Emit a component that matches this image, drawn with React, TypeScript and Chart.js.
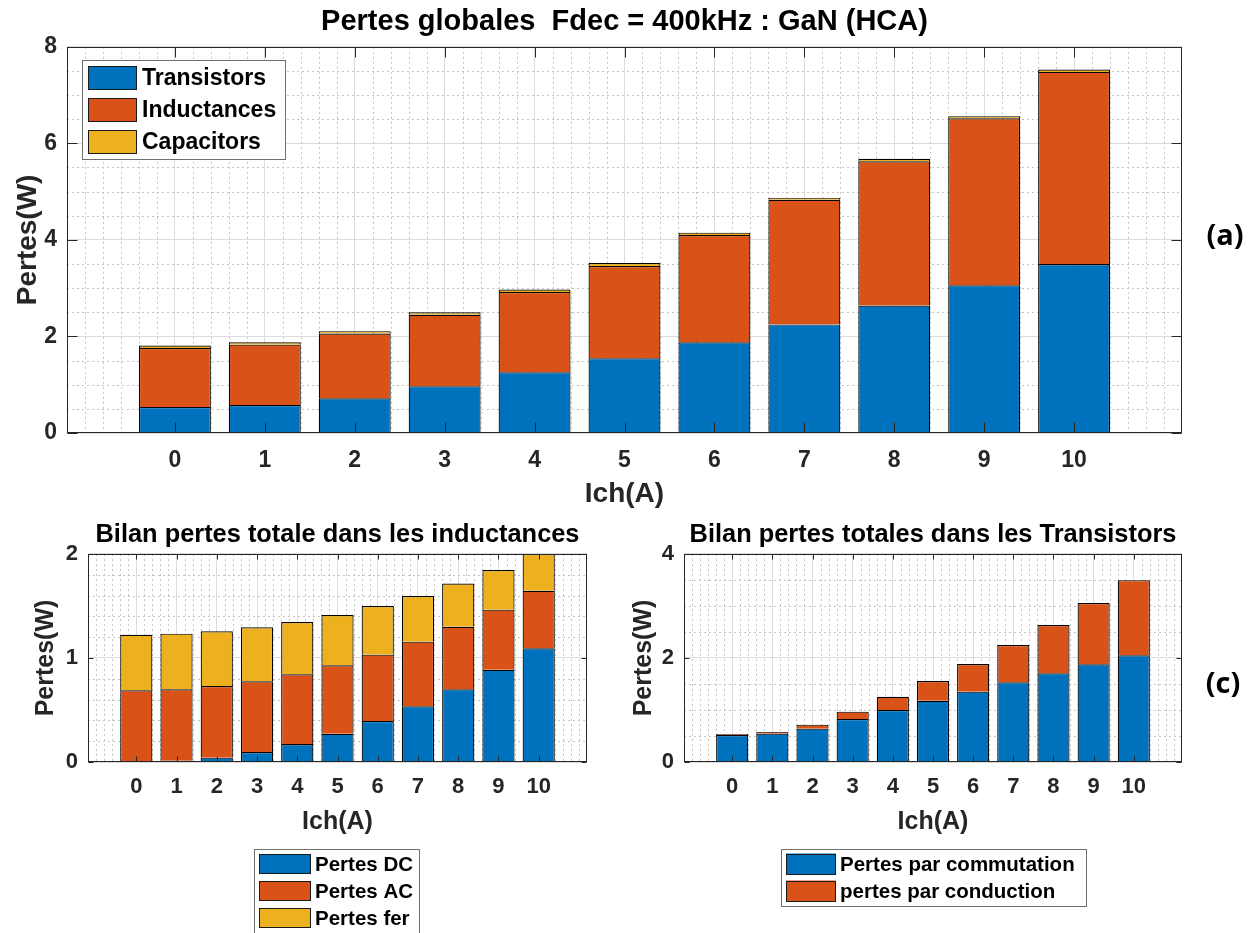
import React, { useEffect, useRef } from "react";
import { Chart, registerables } from "chart.js";

Chart.register(...registerables);

// ---------------- Data ----------------
const ichValues = [0, 1, 2, 3, 4, 5, 6, 7, 8, 9, 10];

// (a) Pertes globales
const transistorsLoss = [0.54, 0.58, 0.72, 0.97, 1.26, 1.55, 1.88, 2.25, 2.64, 3.06, 3.5];
const inductancesLoss = [1.22, 1.25, 1.34, 1.48, 1.66, 1.91, 2.22, 2.58, 2.99, 3.46, 3.98];
const capacitorsLoss = [0.05, 0.05, 0.05, 0.05, 0.05, 0.06, 0.05, 0.04, 0.05, 0.04, 0.05];

// Bilan inductances
const pertesDC = [0.0, 0.013, 0.042, 0.096, 0.173, 0.272, 0.394, 0.535, 0.699, 0.886, 1.093];
const pertesAC = [0.689, 0.686, 0.689, 0.68, 0.67, 0.657, 0.638, 0.622, 0.602, 0.579, 0.554];
const pertesFer = [0.535, 0.535, 0.525, 0.519, 0.503, 0.484, 0.468, 0.439, 0.414, 0.381, 0.353];

// (c) Bilan transistors
const pertesCommutation = [0.519, 0.545, 0.641, 0.827, 1.0, 1.179, 1.353, 1.532, 1.705, 1.878, 2.051];
const pertesConduction = [0.019, 0.032, 0.077, 0.141, 0.256, 0.379, 0.532, 0.718, 0.93, 1.177, 1.446];

// Tick values
const yTicksGlobal = [0, 2, 4, 6, 8];
const yTicksInductances = [0, 1, 2];
const yTicksTransistors = [0, 2, 4];

// ---------------- Styles ----------------
const BLUE = "#0072BD";
const ORANGE = "#D95319";
const YELLOW = "#EDB120";
const AXIS = "#262626";
const FONT = '"Liberation Sans", Arial, Helvetica, sans-serif';
const SIDE_FONT = '"Open Sans", "Noto Sans", sans-serif';

type Series = { label: string; values: number[]; color: string };

// MATLAB-like decorations: minor dotted grid, box, inward ticks, legend, side label
const matlabPlugin = {
  id: "matlab",
  beforeDatasetsDraw(chart: any, _args: any, o: any) {
    const { ctx, chartArea: a } = chart;
    const xs = chart.scales.x;
    const ys = chart.scales.y;
    const near = (v: number, arr: number[]) => arr.some((m) => Math.abs(m - v) < 1e-6);
    const majX = xs.ticks.map((t: any) => t.value);
    const majY = ys.ticks.map((t: any) => t.value);
    ctx.save();
    ctx.beginPath();
    ctx.rect(a.left, a.top, a.right - a.left, a.bottom - a.top);
    ctx.clip();
    ctx.strokeStyle = o.minorColor;
    ctx.lineWidth = 1;
    ctx.setLineDash([2, 3]);
    for (let k = Math.ceil(xs.min / o.minorX - 1e-6); k * o.minorX <= xs.max + 1e-6; k++) {
      const v = k * o.minorX;
      if (near(v, majX) || Math.abs(v - xs.min) < 1e-6 || Math.abs(v - xs.max) < 1e-6) continue;
      const px = Math.round(xs.getPixelForValue(v)) + 0.5;
      ctx.beginPath();
      ctx.moveTo(px, a.top);
      ctx.lineTo(px, a.bottom);
      ctx.stroke();
    }
    for (let k = Math.ceil(ys.min / o.minorY - 1e-6); k * o.minorY <= ys.max + 1e-6; k++) {
      const v = k * o.minorY;
      if (near(v, majY) || Math.abs(v - ys.min) < 1e-6 || Math.abs(v - ys.max) < 1e-6) continue;
      const py = Math.round(ys.getPixelForValue(v)) + 0.5;
      ctx.beginPath();
      ctx.moveTo(a.left, py);
      ctx.lineTo(a.right, py);
      ctx.stroke();
    }
    ctx.restore();
  },
  afterDatasetsDraw(chart: any, _args: any, o: any) {
    const { ctx, chartArea: a } = chart;
    const xs = chart.scales.x;
    const ys = chart.scales.y;
    const L = Math.round(a.left) + 0.5;
    const R = Math.round(a.right) - 0.5;
    const T = Math.round(a.top) + 0.5;
    const B = Math.round(a.bottom) - 0.5;
    ctx.save();
    ctx.strokeStyle = AXIS;
    ctx.lineWidth = 1;
    ctx.setLineDash([]);
    ctx.strokeRect(L, T, R - L, B - T);
    const len = o.tickLen;
    ctx.beginPath();
    xs.ticks.forEach((t: any) => {
      const px = Math.round(xs.getPixelForValue(t.value)) + 0.5;
      ctx.moveTo(px, B);
      ctx.lineTo(px, B - len);
      ctx.moveTo(px, T);
      ctx.lineTo(px, T + len);
    });
    ys.ticks.forEach((t: any) => {
      const py = Math.round(ys.getPixelForValue(t.value)) + 0.5;
      ctx.moveTo(L, py);
      ctx.lineTo(L + len, py);
      ctx.moveTo(R, py);
      ctx.lineTo(R - len, py);
    });
    ctx.stroke();
    ctx.restore();
  },
  afterDraw(chart: any, _args: any, o: any) {
    const { ctx } = chart;
    const lg = o.legend;
    if (lg) {
      ctx.save();
      ctx.fillStyle = "#ffffff";
      ctx.fillRect(lg.x, lg.y, lg.w, lg.h);
      ctx.strokeStyle = "#707070";
      ctx.lineWidth = 1;
      ctx.strokeRect(lg.x + 0.5, lg.y + 0.5, lg.w - 1, lg.h - 1);
      chart.data.datasets.forEach((ds: any, i: number) => {
        const cy = lg.firstCy + i * lg.step;
        ctx.fillStyle = ds.backgroundColor;
        ctx.fillRect(lg.swX, cy - lg.swH / 2, lg.swW, lg.swH);
        ctx.strokeStyle = "#1a1a1a";
        ctx.strokeRect(lg.swX + 0.5, Math.round(cy - lg.swH / 2) + 0.5, lg.swW - 1, lg.swH - 1);
        ctx.fillStyle = "#000";
        ctx.font = `bold ${lg.fontSize}px ${FONT}`;
        ctx.textAlign = "left";
        ctx.textBaseline = "middle";
        ctx.fillText(ds.label, lg.textX, cy + 1);
      });
      ctx.restore();
    }
    const sd = o.side;
    if (sd) {
      ctx.save();
      ctx.fillStyle = "#000";
      ctx.font = `bold ${sd.fontSize}px ${SIDE_FONT}`;
      ctx.textAlign = "center";
      ctx.textBaseline = "middle";
      ctx.fillText(sd.text, sd.x, sd.y);
      ctx.restore();
    }
  },
};

type Spec = {
  series: Series[];
  title: string;
  titleSize: number;
  titlePad: { top: number; bottom: number };
  yMax: number;
  yTicks: number[];
  minorY: number;
  tickSize: number;
  labelSize: number;
  yAxisWidth: number;
  yTitlePad: number;
  xAxisHeight: number;
  xTickPad: number;
  xTitlePadBottom: number;
  padding: { left: number; right: number; top: number; bottom: number };
  tickLen: number;
  legend: any;
  side?: any;
};

function buildConfig(s: Spec): any {
  return {
    type: "bar",
    data: {
      datasets: s.series.map((ser) => ({
        label: ser.label,
        data: ichValues.map((x, i) => ({ x, y: ser.values[i] })),
        backgroundColor: ser.color,
        borderColor: "#000000",
        borderWidth: 1.2,
        borderSkipped: "start",
        inflateAmount: 0,
        barPercentage: 0.8,
        categoryPercentage: 1,
      })),
    },
    options: {
      animation: false,
      responsive: false,
      devicePixelRatio: 1,
      layout: { padding: s.padding },
      plugins: {
        legend: { display: false },
        tooltip: { enabled: false },
        title: {
          display: true,
          text: s.title,
          fullSize: false,
          color: "#000",
          font: { family: FONT, size: s.titleSize, weight: "bold", lineHeight: 1.2 },
          padding: s.titlePad,
        },
        matlab: {
          minorX: 0.2,
          minorY: s.minorY,
          minorColor: "#c4c4c4",
          tickLen: s.tickLen,
          legend: s.legend,
          side: s.side,
        },
      },
      scales: {
        x: {
          type: "linear",
          stacked: true,
          offset: false,
          min: -1.2,
          max: 11.2,
          afterBuildTicks: (sc: any) => {
            sc.ticks = ichValues.map((v) => ({ value: v }));
          },
          afterFit: (sc: any) => {
            sc.height = s.xAxisHeight;
          },
          ticks: {
            autoSkip: false,
            maxRotation: 0,
            color: AXIS,
            padding: s.xTickPad,
            font: { family: FONT, size: s.tickSize, weight: "bold", lineHeight: 1.2 },
            callback: (v: any) => String(v),
          },
          grid: { color: "#dcdcdc", lineWidth: 1, drawTicks: false, offset: false },
          border: { display: false },
          title: {
            display: true,
            text: "Ich(A)",
            color: AXIS,
            font: { family: FONT, size: s.labelSize, weight: "bold", lineHeight: 1.2 },
            padding: { top: 0, bottom: s.xTitlePadBottom },
          },
        },
        y: {
          type: "linear",
          stacked: true,
          min: 0,
          max: s.yMax,
          afterBuildTicks: (sc: any) => {
            sc.ticks = s.yTicks.map((v) => ({ value: v }));
          },
          afterFit: (sc: any) => {
            sc.width = s.yAxisWidth;
          },
          ticks: {
            color: AXIS,
            padding: 10,
            font: { family: FONT, size: s.tickSize, weight: "bold", lineHeight: 1.2 },
            callback: (v: any) => String(v),
          },
          grid: { color: "#dcdcdc", lineWidth: 1, drawTicks: false },
          border: { display: false },
          title: {
            display: true,
            text: "Pertes(W)",
            color: AXIS,
            font: { family: FONT, size: s.labelSize, weight: "bold", lineHeight: 1.2 },
            padding: { top: s.yTitlePad, bottom: 0 },
          },
        },
      },
    },
    plugins: [matlabPlugin],
  };
}

const globalSpec: Spec = {
  series: [
    { label: "Transistors", values: transistorsLoss, color: BLUE },
    { label: "Inductances", values: inductancesLoss, color: ORANGE },
    { label: "Capacitors", values: capacitorsLoss, color: YELLOW },
  ],
  title: "Pertes globales  Fdec = 400kHz : GaN (HCA)",
  titleSize: 29,
  titlePad: { top: 5, bottom: 7 },
  yMax: 8,
  yTicks: yTicksGlobal,
  minorY: 0.5,
  tickSize: 23,
  labelSize: 28,
  yAxisWidth: 67,
  yTitlePad: 11,
  xAxisHeight: 82,
  xTickPad: 14,
  xTitlePadBottom: 4,
  padding: { left: 0, right: 74, top: 0, bottom: 0 },
  tickLen: 10,
  legend: { x: 82, y: 60, w: 204, h: 100, swX: 88, swW: 49, swH: 24, firstCy: 78, step: 32, textX: 142, fontSize: 23 },
  side: { text: "(a)", x: 1225, y: 237, fontSize: 29 },
};

const inductSpec: Spec = {
  series: [
    { label: "Pertes DC", values: pertesDC, color: BLUE },
    { label: "Pertes AC", values: pertesAC, color: ORANGE },
    { label: "Pertes fer", values: pertesFer, color: YELLOW },
  ],
  title: "Bilan pertes totale dans les inductances",
  titleSize: 25.4,
  titlePad: { top: 5, bottom: 3.5 },
  yMax: 2,
  yTicks: yTicksInductances,
  minorY: 0.2,
  tickSize: 22,
  labelSize: 25,
  yAxisWidth: 88,
  yTitlePad: 31,
  xAxisHeight: 75,
  xTickPad: 12,
  xTitlePadBottom: 0,
  padding: { left: 0, right: 41, top: 0, bottom: 96 },
  tickLen: 5,
  legend: { x: 254, y: 334, w: 166, h: 104, swX: 259, swW: 52, swH: 20, firstCy: 349, step: 27, textX: 315, fontSize: 20.5 },
};

const transSpec: Spec = {
  series: [
    { label: "Pertes par commutation", values: pertesCommutation, color: BLUE },
    { label: "pertes par conduction", values: pertesConduction, color: ORANGE },
  ],
  title: "Bilan pertes totales dans les Transistors",
  titleSize: 25.4,
  titlePad: { top: 5, bottom: 3.5 },
  yMax: 4,
  yTicks: yTicksTransistors,
  minorY: 0.5,
  tickSize: 22,
  labelSize: 25,
  yAxisWidth: 56,
  yTitlePad: 1,
  xAxisHeight: 75,
  xTickPad: 12,
  xTitlePadBottom: 0,
  padding: { left: 0, right: 74, top: 0, bottom: 96 },
  tickLen: 5,
  legend: { x: 153, y: 334, w: 306, h: 58, swX: 158, swW: 50, swH: 21, firstCy: 349, step: 27, textX: 212, fontSize: 20.5 },
  side: { text: "(c)", x: 595, y: 170, fontSize: 29 },
};

function ChartCanvas(props: { spec: Spec; left: number; top: number; width: number; height: number }) {
  const ref = useRef<HTMLCanvasElement>(null);
  useEffect(() => {
    const chart = new Chart(ref.current as HTMLCanvasElement, buildConfig(props.spec));
    return () => chart.destroy();
  }, []);
  return (
    <canvas
      ref={ref}
      width={props.width}
      height={props.height}
      style={{ position: "absolute", left: props.left, top: props.top, width: props.width, height: props.height }}
    />
  );
}

export default function App() {
  return (
    <div style={{ position: "absolute", left: 0, top: 0, width: 1256, height: 933, background: "#ffffff", overflow: "hidden" }}>
      <ChartCanvas spec={globalSpec} left={0} top={0} width={1256} height={515} />
      <ChartCanvas spec={inductSpec} left={0} top={515} width={628} height={418} />
      <ChartCanvas spec={transSpec} left={628} top={515} width={628} height={418} />
    </div>
  );
}
